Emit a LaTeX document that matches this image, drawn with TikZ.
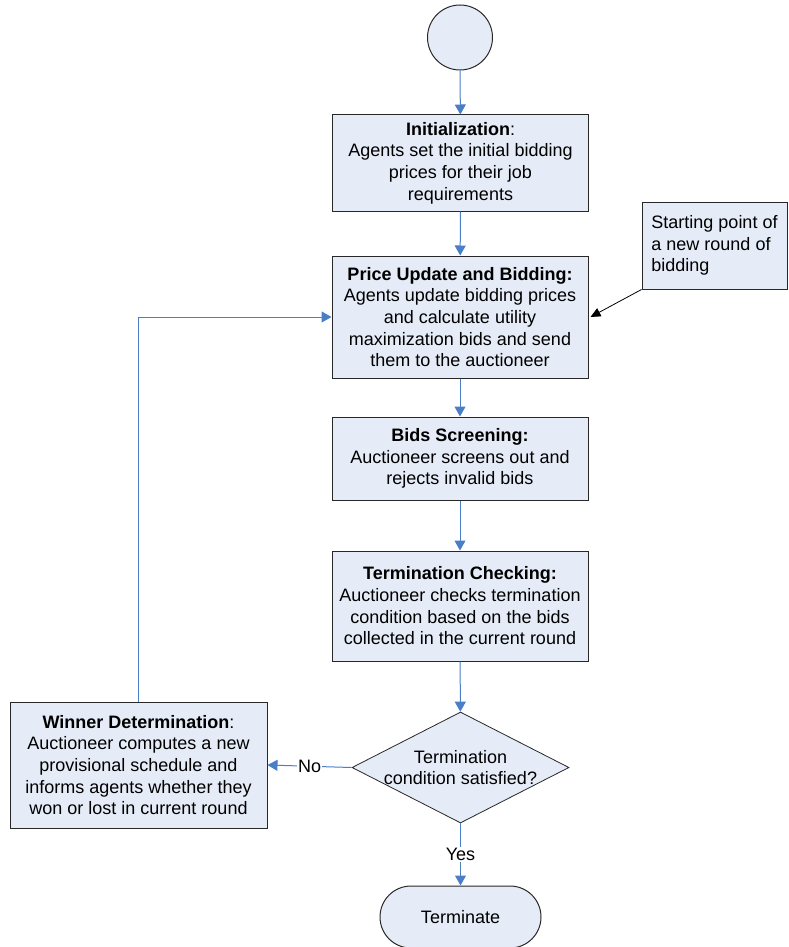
\documentclass[tikz,border=0pt]{standalone}
\usepackage{fontspec}
\setmainfont{Liberation Sans}
\usepackage{tikz}
\usetikzlibrary{shapes}
\usetikzlibrary{shapes.geometric}
\usetikzlibrary{positioning}
\usetikzlibrary{arrows.meta}

\definecolor{boxfill}{RGB}{230,236,247}
\definecolor{flowblue}{RGB}{74,126,198}
\definecolor{edgegray}{RGB}{40,40,40}

\begin{document}
\begin{tikzpicture}[
    x=1pt, y=-1pt,
    every node/.style={font=\fontsize{18}{21.7}\selectfont},
    procbox/.style={
        draw=edgegray,
        line width=1pt,
        fill=boxfill,
        minimum width=256pt,
        align=center,
        inner sep=0pt
    },
    notebox/.style={
        draw=edgegray,
        line width=1pt,
        fill=boxfill,
        minimum width=145pt,
        minimum height=87pt,
        inner sep=0pt,
        align=left
    },
    startnode/.style={
        circle,
        draw=edgegray,
        line width=1pt,
        fill=boxfill,
        minimum size=65pt,
        inner sep=0pt
    },
    decision/.style={
        diamond,
        draw=edgegray,
        line width=0.8pt,
        fill=boxfill,
        minimum width=217pt,
        minimum height=111pt,
        inner sep=0pt
    },
    terminal/.style={
        rectangle,
        rounded corners=31pt,
        draw=edgegray,
        line width=1pt,
        fill=boxfill,
        minimum width=161pt,
        minimum height=62pt
    },
    flow/.style={draw=flowblue, line width=1pt, -{Triangle[length=10pt,width=11pt]}},
    pointer/.style={draw=black, line width=0.8pt, -{Triangle[length=10pt,width=9pt]}},
    answer/.style={fill=white, inner sep=1pt}
]
\useasboundingbox (0,0) rectangle (789,947);

% Main flow
\node[startnode] (start) at (460,37.5) {};

\node[procbox, minimum height=96pt] (init) at (460.5,163)
    {\textbf{Initialization}:\\Agents set the initial bidding\\prices  for their job\\requirements};

\node[procbox, minimum height=122pt] (price) at (460,317)
    {\textbf{Price Update and Bidding:}\\Agents update bidding prices\\and  calculate utility\\maximization bids and send\\them to the auctioneer};

\node[notebox] (note) at (714.5,245.5) {Starting point of\\a new round of\\bidding};

\node[procbox, minimum height=83pt] (screen) at (460,458.5)
    {\textbf{Bids Screening:}\\Auctioneer screens out and\\rejects invalid bids};

\node[procbox, minimum height=110pt] (check) at (460,606)
    {\textbf{Termination Checking:}\\Auctioneer checks termination\\condition based on the bids\\collected in the current round};

\node[decision] (cond) at (460.5,767.5) {};
\node[align=center] (condtext) at (cond) {Termination\\condition satisfied?};

\node[procbox, minimum width=257pt, minimum height=126pt] (win) at (138.5,765)
    {\textbf{Winner Determination}:\\Auctioneer computes a new\\provisional schedule and\\informs agents whether they\\won or lost in current round};

\node[terminal] (term) at (460.5,917) {Terminate};

% Arrows
\draw[flow] (start) -- (init);
\draw[flow] (init) -- (price);
\draw[flow] (price) -- (screen);
\draw[flow] (screen) -- (check);
\draw[flow] (check) -- (cond);

\draw[flow] (cond.west) -- node[answer] {No} (win.east);
\draw[flow] (cond.south) -- node[answer] {Yes} (term.north);
\draw[flow] (win.north) |- (price.west);

\draw[pointer] (note.south west) -- ([xshift=2pt]price.east);

\end{tikzpicture}
\end{document}
